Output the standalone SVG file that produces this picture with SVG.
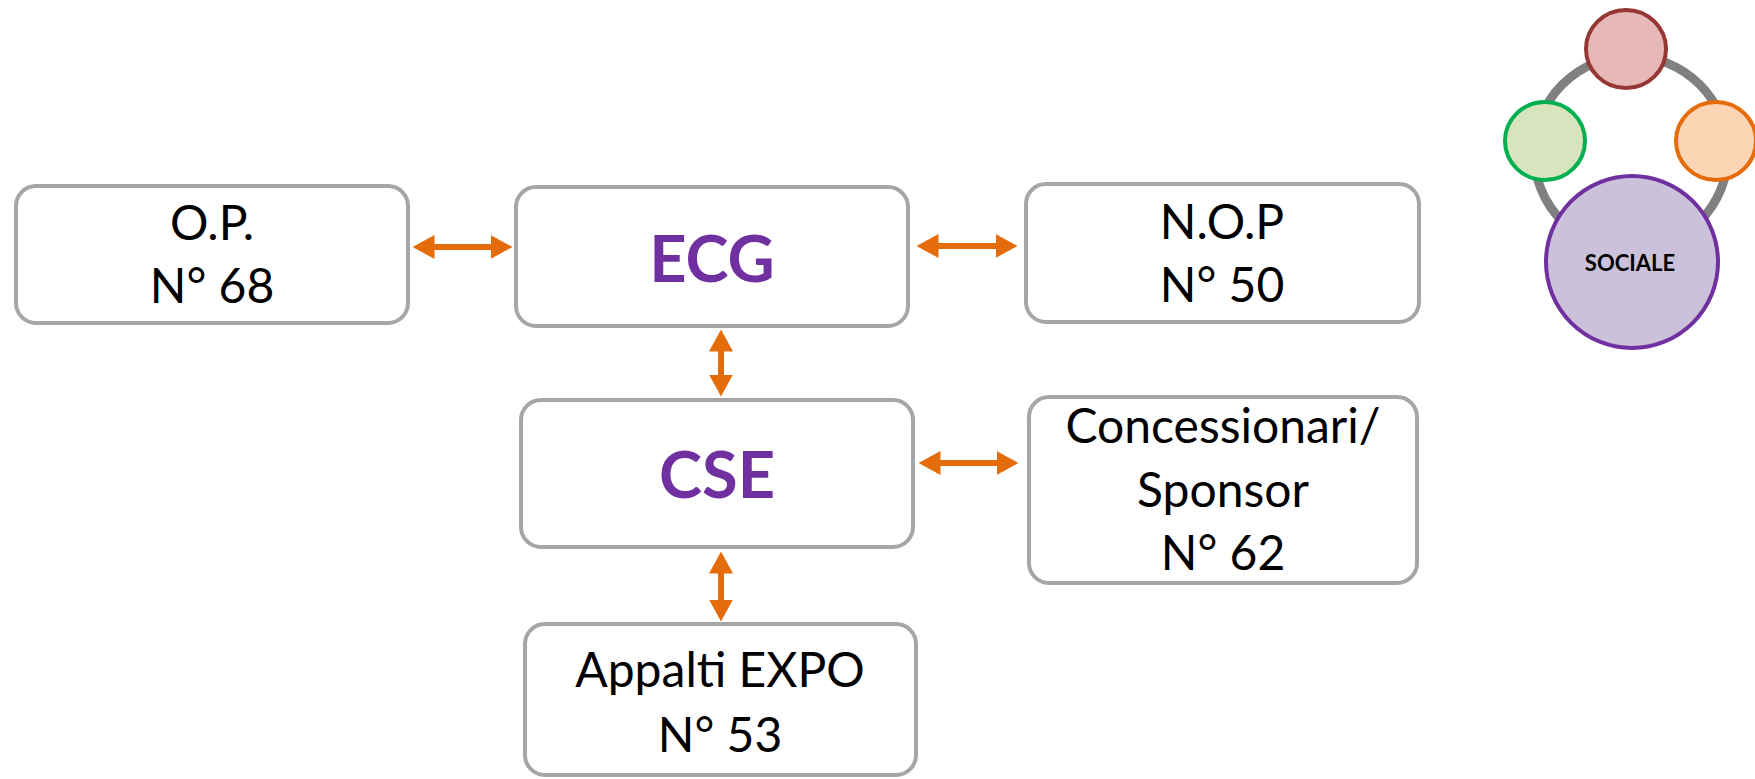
<svg xmlns="http://www.w3.org/2000/svg" width="1755" height="779" viewBox="0 0 1755 779">
<style>
.box{fill:#FFFFFF;stroke:#A6A6A6;stroke-width:4}
.t{font-family:Lato,"Liberation Sans",sans-serif;font-size:48px;fill:#000000;text-anchor:middle}
.tb{font-family:Lato,"Liberation Sans",sans-serif;font-size:65px;font-weight:bold;fill:#7030A0;text-anchor:middle}
.conn{stroke:#E46C0A;stroke-width:6;fill:none;marker-start:url(#ah);marker-end:url(#ah)}
</style>
<defs>
<marker id="ah" viewBox="0 0 22 24" refX="0.5" refY="12" markerWidth="22" markerHeight="24" markerUnits="userSpaceOnUse" orient="auto-start-reverse">
<path d="M0,0 L22,12 L0,24 z" fill="#E46C0A"/>
</marker>
</defs>
<rect width="1755" height="779" fill="#FFFFFF"/>
<g id="connectors">
<line class="conn" x1="434" y1="247" x2="491" y2="247"/>
<line class="conn" x1="938" y1="246" x2="996" y2="246"/>
<line class="conn" x1="940" y1="463" x2="997" y2="463"/>
<line class="conn" x1="721" y1="351" x2="721" y2="375"/>
<line class="conn" x1="721" y1="573" x2="721" y2="600"/>
</g>
<g id="node-op">
<rect class="box" x="16" y="186" width="392" height="137" rx="20"/>
<text class="t" x="212" y="240">O.P.</text>
<text class="t" x="212" y="303">N° 68</text>
</g>
<g id="node-ecg">
<rect class="box" x="516" y="187" width="392" height="139" rx="20"/>
<text class="tb" x="712" y="282">ECG</text>
</g>
<g id="node-nop">
<rect class="box" x="1026" y="184" width="393" height="138" rx="20"/>
<text class="t" x="1222" y="239">N.O.P</text>
<text class="t" x="1222" y="302">N° 50</text>
</g>
<g id="node-cse">
<rect class="box" x="521" y="400" width="392" height="147" rx="20"/>
<text class="tb" x="717" y="498">CSE</text>
</g>
<g id="node-concessionari">
<rect class="box" x="1029" y="397" width="388" height="186" rx="20"/>
<text class="t" x="1223" y="443">Concessionari/</text>
<text class="t" x="1223" y="507">Sponsor</text>
<text class="t" x="1223" y="570">N° 62</text>
</g>
<g id="node-appalti">
<rect class="box" x="525" y="624" width="391" height="151" rx="20"/>
<text class="t" x="720" y="687">Appalti EXPO</text>
<text class="t" x="720" y="752">N° 53</text>
</g>
<g id="logo">
<circle cx="1631" cy="153" r="97" fill="none" stroke="#808080" stroke-width="9"/>
<ellipse cx="1626" cy="49" rx="40" ry="39" fill="#E6B9B8" stroke="#953735" stroke-width="4"/>
<ellipse cx="1545" cy="141" rx="40" ry="39" fill="#D7E4BD" stroke="#00B050" stroke-width="4"/>
<ellipse cx="1716" cy="141" rx="40" ry="39" fill="#FCD5B5" stroke="#E46C0A" stroke-width="4"/>
<circle cx="1632" cy="262" r="86" fill="#CCC1DA" stroke="#7030A0" stroke-width="4"/>
<text x="1630" y="271" font-family="Lato,'Liberation Sans',sans-serif" font-size="22" font-weight="bold" fill="#000000" text-anchor="middle">SOCIALE</text>
</g>
</svg>
